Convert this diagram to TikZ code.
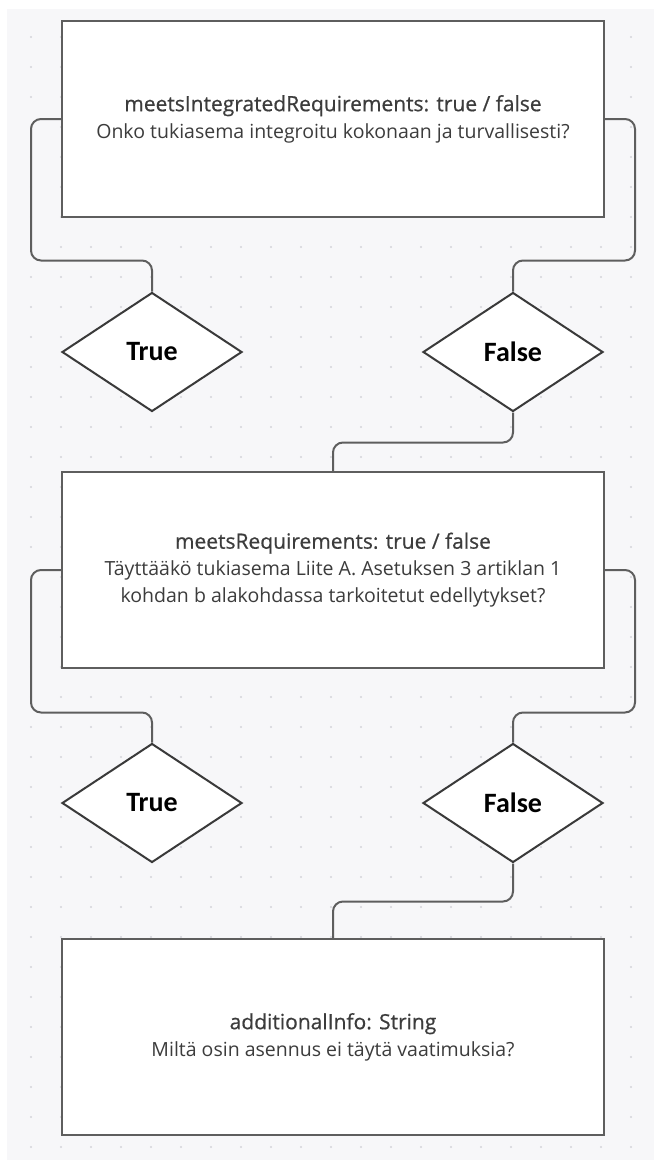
\documentclass[tikz,border=0pt]{standalone}
\usepackage{fontspec}
\setmainfont{Open Sans}
\newfontfamily\titlefont{Open Sans}[FakeBold=0.6]
\newfontfamily\diafont{Carlito}
\usetikzlibrary{shapes.geometric}
\definecolor{bgc}{HTML}{F7F7F9}
\definecolor{dotc}{HTML}{D4D4DA}
\definecolor{boxline}{HTML}{5E5E5E}
\definecolor{dialine}{HTML}{3A3A3A}
\definecolor{txt}{HTML}{3C3C3C}
\tikzset{
  qbox/.style={draw=boxline, line width=2pt, fill=white, rectangle,
    minimum width=542pt, minimum height=196pt, inner sep=0pt,
    align=center, text=txt, font=\fontsize{19.5}{27}\selectfont},
  choice/.style={draw=dialine, line width=2pt, fill=white, diamond,
    minimum width=180pt, minimum height=119pt, inner sep=0pt,
    font=\diafont\bfseries\fontsize{28}{30}\selectfont, text=black},
  conn/.style={draw=boxline, line width=2pt, rounded corners=10pt}
}
\newcommand{\ttl}[1]{{\titlefont\fontsize{21}{27}\selectfont #1}}
\begin{document}
\begin{tikzpicture}[x=1pt,y=-1pt]
\useasboundingbox (0,0) rectangle (654,1160);
\fill[white] (0,0) rectangle (654,1160);
\fill[bgc] (7,9) rectangle (654,1160);
\foreach \i in {0,...,20} {
  \foreach \j in {0,...,37} {
    \fill[dotc] ({31+30*\i},{37+30*\j}) circle (1.1pt);
  }
}
\node[qbox] (b1) at (333,119) {\ttl{meetsIntegratedRequirements: true / false}\\Onko tukiasema integroitu kokonaan ja turvallisesti?};
\node[choice] (t1) at (152,352) {True};
\node[choice] (f1) at (513,352) {False};
\node[qbox] (b2) at (333,570) {\ttl{meetsRequirements: true / false}\\Täyttääkö tukiasema Liite A. Asetuksen 3 artiklan 1\\kohdan b alakohdassa tarkoitetut edellytykset?};
\node[choice] (t2) at (152,803) {True};
\node[choice] (f2) at (513,803) {False};
\node[qbox] (b3) at (333,1037) {\ttl{additionalInfo: String}\\Miltä osin asennus ei täytä vaatimuksia?};
\draw[conn] (b1.west) -- ++(-30,0) |- ([yshift=31pt]t1.north) -- (t1.north);
\draw[conn] (b1.east) -- ++(30,0) |- ([yshift=31pt]f1.north) -- (f1.north);
\draw[conn] (f1.south) -- ++(0,30) -| (b2.north);
\draw[conn] (b2.west) -- ++(-30,0) |- ([yshift=30pt]t2.north) -- (t2.north);
\draw[conn] (b2.east) -- ++(30,0) |- ([yshift=30pt]f2.north) -- (f2.north);
\draw[conn] (f2.south) -- ++(0,38) -| (b3.north);
\end{tikzpicture}
\end{document}
